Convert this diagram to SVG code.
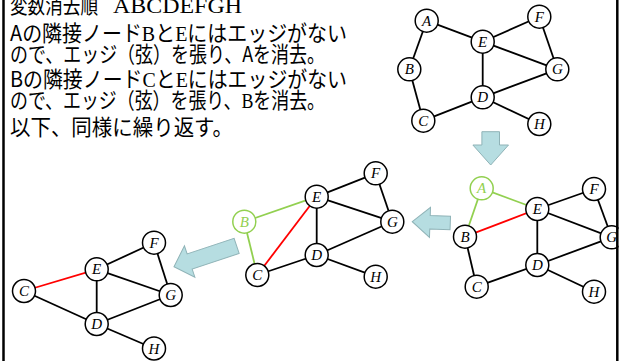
<svg xmlns="http://www.w3.org/2000/svg" width="623" height="361" viewBox="0 0 623 361">
<style>
.t{font-family:"Noto Sans CJK JP","Noto Sans",sans-serif;font-size:22px;fill:#000}
.s{font-family:"Liberation Serif",serif}
.e{stroke:#000;stroke-width:1.8;fill:none}
.g{stroke:#92d050;stroke-width:1.8;fill:none}
.r{stroke:#ff0000;stroke-width:1.8;fill:none}
.n circle{fill:#fff;stroke:#000;stroke-width:1.5}
.n text{font-family:"Liberation Serif",serif;font-style:italic;font-size:15px;text-anchor:middle;fill:#000}
.n.gr circle{stroke:#92d050}
.n.gr text{fill:#92d050}
.arr{fill:#b6dde1;stroke:#8fb3b7;stroke-width:1}
</style>
<defs>
<path id="la" d="M0,0 L17.7,-15 L17.7,-6.7 L38,-6.7 L38,6.7 L17.7,6.7 L17.7,15 Z"/>
</defs>
<rect width="623" height="361" fill="#fff"/>

<g id="text">
<text class="t" x="10" y="13" textLength="88" lengthAdjust="spacingAndGlyphs">変数消去順</text>
<text class="t s" x="113" y="13" textLength="129" lengthAdjust="spacingAndGlyphs">ABCDEFGH</text>
<text class="t" x="10" y="41" textLength="337" lengthAdjust="spacingAndGlyphs">Aの隣接ノード<tspan class="s">B</tspan>と<tspan class="s">E</tspan>にはエッジがない</text>
<text class="t" x="10" y="62" textLength="315" lengthAdjust="spacingAndGlyphs">ので、エッジ（弦）を張り、Aを消去。</text>
<text class="t" x="10" y="87" textLength="337" lengthAdjust="spacingAndGlyphs">Bの隣接ノード<tspan class="s">C</tspan>と<tspan class="s">E</tspan>にはエッジがない</text>
<text class="t" x="10" y="108" textLength="315" lengthAdjust="spacingAndGlyphs">ので、エッジ（弦）を張り、<tspan class="s">B</tspan>を消去。</text>
<text class="t" x="10" y="135" textLength="223" lengthAdjust="spacingAndGlyphs">以下、同様に繰り返す。</text>
</g>

<g id="arrows">
<path class="arr" d="M0,0 L20,-17.8 L20,-8.8 L33.3,-8.8 L33.3,8.8 L20,8.8 L20,17.8 Z" transform="translate(490.7,165) rotate(-90)"/>
<use href="#la" class="arr" transform="translate(412.3,221.7) rotate(2)"/>
<path class="arr" d="M0,0 L16.5,-16.5 L16.5,-8 L66,-8 L66,8 L16.5,8 L16.5,16.5 Z" transform="translate(174,266.7) rotate(-18.4)"/>
</g>

<g id="connectors">
<!-- graph 1 -->
<line class="e" x1="426.7" y1="20.7" x2="409.3" y2="69.3"/>
<line class="e" x1="426.7" y1="20.7" x2="482.7" y2="41.7"/>
<line class="e" x1="409.3" y1="69.3" x2="423.3" y2="120.7"/>
<line class="e" x1="423.3" y1="120.7" x2="482.7" y2="97.3"/>
<line class="e" x1="482.7" y1="97.3" x2="482.7" y2="41.7"/>
<line class="e" x1="482.7" y1="97.3" x2="557.3" y2="69.3"/>
<line class="e" x1="482.7" y1="97.3" x2="539.3" y2="124"/>
<line class="e" x1="482.7" y1="41.7" x2="539.3" y2="16.7"/>
<line class="e" x1="482.7" y1="41.7" x2="557.3" y2="69.3"/>
<line class="e" x1="539.3" y1="16.7" x2="557.3" y2="69.3"/>
<!-- graph 2 -->
<line class="g" x1="481.7" y1="188.3" x2="465" y2="236.7"/>
<line class="g" x1="481.7" y1="188.3" x2="537.3" y2="209"/>
<line class="r" x1="465" y1="236.7" x2="537.3" y2="209"/>
<line class="e" x1="465" y1="236.7" x2="476.7" y2="286.7"/>
<line class="e" x1="476.7" y1="286.7" x2="537.3" y2="265"/>
<line class="e" x1="537.3" y1="265" x2="537.3" y2="209"/>
<line class="e" x1="537.3" y1="265" x2="611.7" y2="237.3"/>
<line class="e" x1="537.3" y1="265" x2="594" y2="291.7"/>
<line class="e" x1="537.3" y1="209" x2="594" y2="189"/>
<line class="e" x1="537.3" y1="209" x2="611.7" y2="237.3"/>
<line class="e" x1="594" y1="189" x2="611.7" y2="237.3"/>
<!-- graph 3 -->
<line class="g" x1="244.3" y1="221.7" x2="316.7" y2="196.7"/>
<line class="g" x1="244.3" y1="221.7" x2="257.3" y2="275"/>
<line class="r" x1="257.3" y1="275" x2="316.7" y2="196.7"/>
<line class="e" x1="257.3" y1="275" x2="316.7" y2="255"/>
<line class="e" x1="316.7" y1="255" x2="316.7" y2="196.7"/>
<line class="e" x1="316.7" y1="255" x2="392.3" y2="221.7"/>
<line class="e" x1="316.7" y1="255" x2="375.7" y2="276.7"/>
<line class="e" x1="316.7" y1="196.7" x2="375.7" y2="173.3"/>
<line class="e" x1="316.7" y1="196.7" x2="392.3" y2="221.7"/>
<line class="e" x1="375.7" y1="173.3" x2="392.3" y2="221.7"/>
<!-- graph 4 -->
<line class="r" x1="24" y1="291" x2="96.7" y2="269.3"/>
<line class="e" x1="24" y1="291" x2="96.7" y2="324"/>
<line class="e" x1="96.7" y1="324" x2="96.7" y2="269.3"/>
<line class="e" x1="96.7" y1="324" x2="170.7" y2="295"/>
<line class="e" x1="96.7" y1="324" x2="154" y2="348.5"/>
<line class="e" x1="96.7" y1="269.3" x2="154" y2="242.7"/>
<line class="e" x1="96.7" y1="269.3" x2="170.7" y2="295"/>
<line class="e" x1="154" y1="242.7" x2="170.7" y2="295"/>
</g>

<g id="g1">
<g id="g1-A" class="n"><circle cx="426.7" cy="20.7" r="11.5"/><text x="426.7" y="25.7">A</text></g>
<g id="g1-B" class="n"><circle cx="409.3" cy="69.3" r="11.5"/><text x="409.3" y="74.3">B</text></g>
<g id="g1-C" class="n"><circle cx="423.3" cy="120.7" r="11.5"/><text x="423.3" y="125.7">C</text></g>
<g id="g1-D" class="n"><circle cx="482.7" cy="97.3" r="11.5"/><text x="482.7" y="102.3">D</text></g>
<g id="g1-E" class="n"><circle cx="482.7" cy="41.7" r="11.5"/><text x="482.7" y="46.7">E</text></g>
<g id="g1-F" class="n"><circle cx="539.3" cy="16.7" r="11.5"/><text x="539.3" y="21.7">F</text></g>
<g id="g1-G" class="n"><circle cx="557.3" cy="69.3" r="11.5"/><text x="557.3" y="74.3">G</text></g>
<g id="g1-H" class="n"><circle cx="539.3" cy="124" r="11.5"/><text x="539.3" y="129">H</text></g>
</g>

<g id="g2">
<g id="g2-A" class="n gr"><circle cx="481.7" cy="188.3" r="11.5"/><text x="481.7" y="193.3">A</text></g>
<g id="g2-B" class="n"><circle cx="465" cy="236.7" r="11.5"/><text x="465" y="241.7">B</text></g>
<g id="g2-C" class="n"><circle cx="476.7" cy="286.7" r="11.5"/><text x="476.7" y="291.7">C</text></g>
<g id="g2-D" class="n"><circle cx="537.3" cy="265" r="11.5"/><text x="537.3" y="270">D</text></g>
<g id="g2-E" class="n"><circle cx="537.3" cy="209" r="11.5"/><text x="537.3" y="214">E</text></g>
<g id="g2-F" class="n"><circle cx="594" cy="189" r="11.5"/><text x="594" y="194">F</text></g>
<g id="g2-G" class="n"><circle cx="611.7" cy="237.3" r="11.5"/><text x="611.7" y="242.3">G</text></g>
<g id="g2-H" class="n"><circle cx="594" cy="291.7" r="11.5"/><text x="594" y="296.7">H</text></g>
</g>

<g id="g3">
<g id="g3-B" class="n gr"><circle cx="244.3" cy="221.7" r="11.5"/><text x="244.3" y="226.7">B</text></g>
<g id="g3-C" class="n"><circle cx="257.3" cy="275" r="11.5"/><text x="257.3" y="280">C</text></g>
<g id="g3-D" class="n"><circle cx="316.7" cy="255" r="11.5"/><text x="316.7" y="260">D</text></g>
<g id="g3-E" class="n"><circle cx="316.7" cy="196.7" r="11.5"/><text x="316.7" y="201.7">E</text></g>
<g id="g3-F" class="n"><circle cx="375.7" cy="173.3" r="11.5"/><text x="375.7" y="178.3">F</text></g>
<g id="g3-G" class="n"><circle cx="392.3" cy="221.7" r="11.5"/><text x="392.3" y="226.7">G</text></g>
<g id="g3-H" class="n"><circle cx="375.7" cy="276.7" r="11.5"/><text x="375.7" y="281.7">H</text></g>
</g>

<g id="g4">
<g id="g4-C" class="n"><circle cx="24" cy="291" r="11.5"/><text x="24" y="296">C</text></g>
<g id="g4-D" class="n"><circle cx="96.7" cy="324" r="11.5"/><text x="96.7" y="329">D</text></g>
<g id="g4-E" class="n"><circle cx="96.7" cy="269.3" r="11.5"/><text x="96.7" y="274.3">E</text></g>
<g id="g4-F" class="n"><circle cx="154" cy="242.7" r="11.5"/><text x="154" y="247.7">F</text></g>
<g id="g4-G" class="n"><circle cx="170.7" cy="295" r="11.5"/><text x="170.7" y="300">G</text></g>
<g id="g4-H" class="n"><circle cx="154" cy="348.5" r="11.5"/><text x="154" y="353.5">H</text></g>
</g>

<g id="frame">
<rect x="618.6" y="0" width="4.4" height="361" fill="#fff"/>
<line x1="3.5" y1="0" x2="3.5" y2="361" stroke="#000" stroke-width="2.5"/>
<line x1="617.3" y1="0" x2="617.3" y2="361" stroke="#000" stroke-width="2.5"/>
</g>
</svg>
